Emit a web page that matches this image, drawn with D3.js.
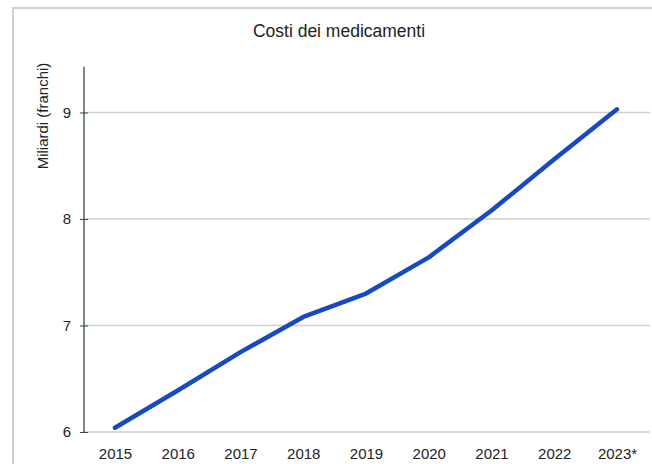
<!DOCTYPE html>
<html>
<head>
<meta charset="utf-8">
<script src="https://cdn.jsdelivr.net/npm/d3@7"></script>
<style>
  body { margin: 0; background: #fff; }
  text { font-family: "Liberation Sans", Arial, sans-serif; }
</style>
</head>
<body>
<div id="chart"></div>
<script>
// years and costs in billions of francs
const years = ['2015', '2016', '2017', '2018', '2019', '2020', '2021', '2022', '2023*'];
const costs = [6.04, 6.39, 6.75, 7.08, 7.30, 7.64, 8.08, 8.56, 9.03];
const yTicks = [6, 7, 8, 9];

const width = 652;
const height = 464;

const svg = d3.select('#chart')
  .append('svg')
  .attr('width', width)
  .attr('height', height);

// outer frame
svg.append('rect')
  .attr('x', 13)
  .attr('y', 8)
  .attr('width', width)
  .attr('height', height)
  .attr('fill', 'none')
  .attr('stroke', '#d0d0d0')
  .attr('stroke-width', 2);

svg.append('text')
  .attr('x', 339)
  .attr('y', 37)
  .attr('text-anchor', 'middle')
  .style('font-size', '17.5px')
  .attr('fill', '#222')
  .text('Costi dei medicamenti');

const x = d3.scalePoint()
  .domain(years)
  .range([115, 617]);

const y = d3.scaleLinear()
  .domain([6, 9.43])
  .range([432, 66.7]);

// gridlines
svg.append('g')
  .selectAll('line')
  .data(yTicks)
  .enter()
  .append('line')
  .attr('x1', 84)
  .attr('x2', 650)
  .attr('y1', d => y(d))
  .attr('y2', d => y(d))
  .attr('stroke', '#cfcfcf')
  .attr('stroke-width', 1.5);

// y axis
const yAxis = svg.append('g')
  .attr('transform', 'translate(84,0)')
  .call(d3.axisLeft(y).tickValues(yTicks).tickSize(4).tickPadding(9).tickFormat(d3.format('d')));
yAxis.select('.domain')
  .attr('d', `M0,${y(9.43)}V${y(6)}`)
  .attr('stroke', '#2f4a4f')
  .attr('stroke-width', 1.3);
yAxis.selectAll('.tick line')
  .attr('x1', -4)
  .attr('x2', 4)
  .attr('stroke', '#2f4a4f');
yAxis.selectAll('.tick text')
  .style('font-size', '15px')
  .attr('fill', '#222');

svg.append('text')
  .attr('transform', 'translate(48,116) rotate(-90)')
  .attr('text-anchor', 'middle')
  .style('font-size', '15px')
  .attr('fill', '#222')
  .text('Miliardi (franchi)');

// x axis labels only
const xAxis = svg.append('g')
  .attr('transform', `translate(0,${y(6)})`)
  .call(d3.axisBottom(x).tickSize(0).tickPadding(16));
xAxis.select('.domain').remove();
xAxis.selectAll('.tick text')
  .style('font-size', '15px')
  .attr('fill', '#222');

const line = d3.line()
  .x((d, i) => x(years[i]))
  .y(d => y(d));

svg.append('path')
  .datum(costs)
  .attr('d', line)
  .attr('fill', 'none')
  .attr('stroke', '#1749c0')
  .attr('stroke-width', 4.5)
  .attr('stroke-linecap', 'round')
  .attr('stroke-linejoin', 'round');
</script>
</body>
</html>
